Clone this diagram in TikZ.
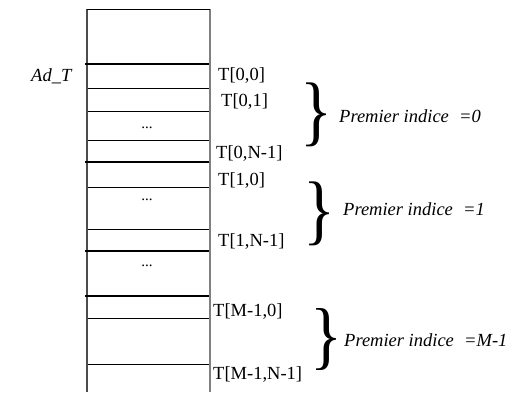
\documentclass[tikz,border=0pt]{standalone}
\usepackage{fontspec}
\setmainfont{Liberation Serif}
\usepackage{graphicx}
\begin{document}
\begin{tikzpicture}[x=1pt,y=-1pt,
  cellline/.style={line width=0.9pt,black},
  thickline/.style={line width=1.8pt,black},
  lbl/.style={anchor=base west,inner sep=0pt,font=\fontsize{18.5}{20}\selectfont},
  ilbl/.style={anchor=base west,inner sep=0pt,font=\fontsize{18.5}{20}\selectfont\itshape},
  dotsnode/.style={inner sep=0pt,font=\fontsize{15}{16}\selectfont},
  bracenode/.style={inner sep=0pt}]
\useasboundingbox (0,0) rectangle (520,392);
% outer frame
\coordinate (tl) at (87,9);
\coordinate (tr) at (210,9);
\coordinate (bl) at (87,392);
\coordinate (br) at (210,392);
\draw[line width=1.3pt,black!70] (bl) -- (tl);
\draw[line width=2.6pt,black!50] (tr) -- (br);
\draw[line width=1pt] (tl) -- (tr);
% cell lines
\foreach \y in {88,111,140,187,229,318,364}{
  \draw[cellline] (88,\y) -- (209,\y);
}
\foreach \y in {64,162,251,296}{
  \draw[thickline] (85,\y) -- (209,\y);
}
% dots
\node[dotsnode] (d1) at (147,128) {...};
\node[dotsnode] (d2) at (147,200) {...};
\node[dotsnode] (d3) at (147,266) {...};
% address label
\node[ilbl] (ad) at (31,81) {Ad\_T};
% element labels
\node[lbl] (t00) at (218,80.5) {T[0,0]};
\node[lbl] (t01) at (221,106.5) {T[0,1]};
\node[lbl] (t0n) at (216,158) {T[0,N-1]};
\node[lbl] (t10) at (218,185) {T[1,0]};
\node[lbl] (t1n) at (218,246) {T[1,N-1]};
\node[lbl] (tm0) at (213,316.5) {T[M-1,0]};
\node[lbl] (tmn) at (213,379) {T[M-1,N-1]};
% braces
\node[bracenode] (b1) at (317,115) {\resizebox*{32pt}{64pt}{\fontsize{19}{19}\selectfont\}}};
\node[bracenode] (b2) at (320,214) {\resizebox*{32pt}{64pt}{\fontsize{19}{19}\selectfont\}}};
\node[bracenode] (b3) at (327,340) {\resizebox*{32pt}{62pt}{\fontsize{19}{19}\selectfont\}}};
% group labels
\node[ilbl] (p0) at (339,122) {Premier indice\hspace{0.55em}=0};
\node[ilbl] (p1) at (343,215) {Premier indice\hspace{0.55em}=1};
\node[ilbl] (pm) at (344,346.5) {Premier indice\hspace{0.55em}=M-1};
\end{tikzpicture}
\end{document}
